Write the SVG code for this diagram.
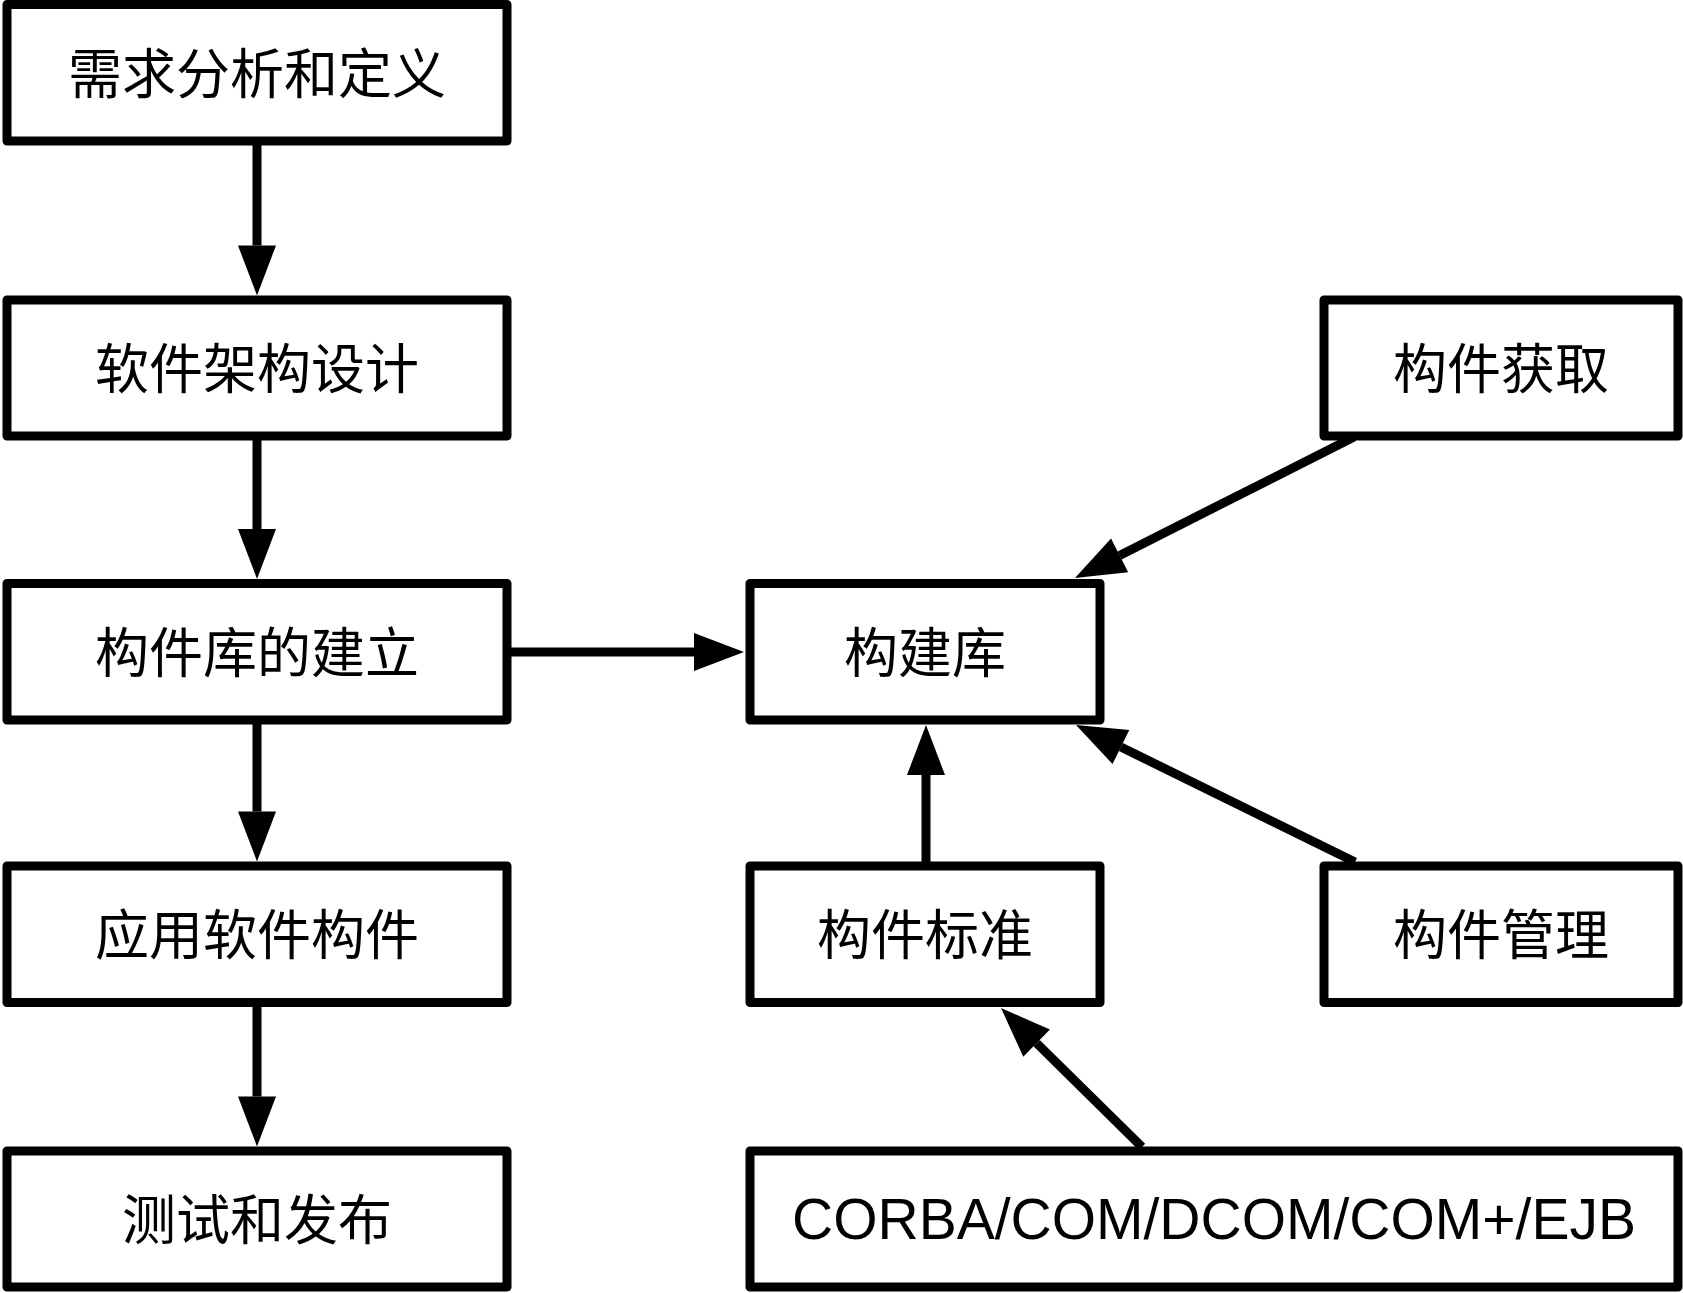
<svg xmlns="http://www.w3.org/2000/svg" width="1683" height="1293" viewBox="0 0 1683 1293">
<defs>
<style>
.box{fill:#fff;stroke:#000;stroke-width:9;stroke-linejoin:round}
.t{font-family:"Noto Sans CJK SC","Liberation Sans",sans-serif;font-size:54px;fill:#000;text-anchor:middle}
.l{font-family:"Liberation Sans",Arial,sans-serif;font-size:57px;fill:#000;text-anchor:middle}
.c{fill:none;stroke:#000;stroke-width:9;marker-end:url(#ah)}
</style>
<marker id="ah" markerUnits="userSpaceOnUse" markerWidth="52" markerHeight="40" refX="0" refY="19" orient="auto" overflow="visible">
<path d="M0,0 L50,19 L0,38 Z" fill="#000"/>
</marker>
</defs>
<rect width="1683" height="1293" fill="#fff"/>
<g id="connectors">
<line class="c" x1="257" y1="141" x2="257" y2="245.5"/>
<line class="c" x1="257" y1="436" x2="257" y2="529"/>
<line class="c" x1="257" y1="720" x2="257" y2="811.5"/>
<line class="c" x1="257" y1="1002.5" x2="257" y2="1096.5"/>
<line class="c" x1="507" y1="652" x2="694" y2="652"/>
<line class="c" x1="1354" y1="437" x2="1119.6" y2="555.4"/>
<line class="c" x1="1355" y1="862" x2="1120.9" y2="747"/>
<line class="c" x1="926" y1="866" x2="926" y2="775"/>
<line class="c" x1="1142" y1="1147" x2="1036.6" y2="1043.1"/>
</g>
<g id="n1"><rect class="box" x="7" y="4.5" width="500" height="136.5"/><text class="t" x="257" y="94">需求分析和定义</text></g>
<g id="n2"><rect class="box" x="7" y="300" width="500" height="136"/><text class="t" x="257" y="389">软件架构设计</text></g>
<g id="n3"><rect class="box" x="7" y="583.5" width="500" height="136.5"/><text class="t" x="257" y="672.5">构件库的建立</text></g>
<g id="n4"><rect class="box" x="7" y="866" width="500" height="136.5"/><text class="t" x="257" y="955">应用软件构件</text></g>
<g id="n5"><rect class="box" x="7" y="1151" width="500" height="136"/><text class="t" x="257" y="1240">测试和发布</text></g>
<g id="n6"><rect class="box" x="750" y="583.5" width="350" height="136.5"/><text class="t" x="925" y="672.5">构建库</text></g>
<g id="n7"><rect class="box" x="1324" y="300" width="354" height="136"/><text class="t" x="1501" y="389">构件获取</text></g>
<g id="n8"><rect class="box" x="750" y="866" width="350" height="136.5"/><text class="t" x="925" y="955">构件标准</text></g>
<g id="n9"><rect class="box" x="1324" y="866" width="354" height="136.5"/><text class="t" x="1501" y="955">构件管理</text></g>
<g id="n10"><rect class="box" x="750" y="1151" width="928" height="136"/><text class="l" x="1214" y="1239">CORBA/COM/DCOM/COM+/EJB</text></g>
</svg>
